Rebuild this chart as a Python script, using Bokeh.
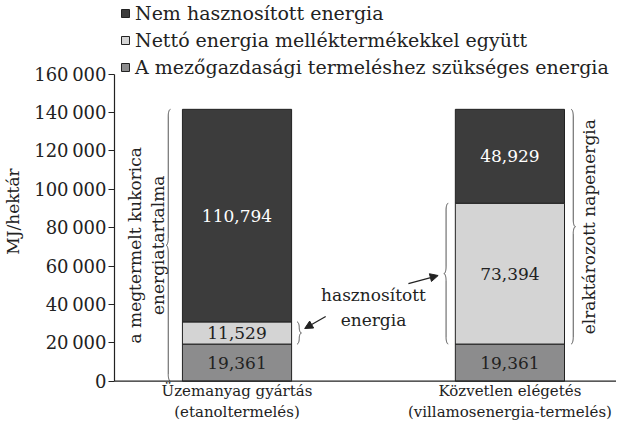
import numpy as np
from bokeh.plotting import figure
from bokeh.models import (ColumnDataSource, FixedTicker, Legend, LegendItem, Span,
                          Arrow, NormalHead, Range1d)
from bokeh.core.properties import value
from bokeh.embed import file_html
from bokeh.resources import INLINE

# ---- data ----
categories = ["Üzemanyag gyártás\n(etanoltermelés)",
              "Közvetlen elégetés\n(villamosenergia-termelés)"]
agri_energy = [19361, 19361]          # A mezőgazdasági termeléshez szükséges energia
net_energy = [11529, 73394]           # Nettó energia melléktermékekkel együtt
unused_energy = [110794, 48929]       # Nem hasznosított energia
series_names = ["A mezőgazdasági termeléshez szükséges energia",
                "Nettó energia melléktermékekkel együtt",
                "Nem hasznosított energia"]
y_ticks = [0, 20000, 40000, 60000, 80000, 100000, 120000, 140000, 160000]
y_tick_labels = ["0", "20\u2009000", "40\u2009000", "60\u2009000", "80\u2009000",
                 "100\u2009000", "120\u2009000", "140\u2009000", "160\u2009000"]

FONT = "DejaVu Serif"
C_DARK, C_LIGHT, C_MID = "#3c3c3c", "#d4d4d4", "#8c8c8d"
TXT = "#222222"
FS = "17px"

xs = [0, 1]
bw = 0.4
a = np.array(agri_energy, float)
n = np.array(net_energy, float)
u = np.array(unused_energy, float)
b1, b2, b3 = a, a + n, a + n + u

W_FIG, H_FIG = 616, 422
L = 112
x0r = -(235 - L) / 274
p = figure(width=W_FIG, height=H_FIG, output_backend="svg", toolbar_location=None,
           x_range=Range1d(x0r, x0r + (W_FIG - L) / 274), y_range=Range1d(-21524, 198410),
           min_border_left=L, min_border_right=0, min_border_top=0, min_border_bottom=0)
p.outline_line_color = None
p.grid.visible = False
p.xaxis.visible = False

src = ColumnDataSource(dict(x=xs, a0=[0, 0], a1=b1, n1=b2, u1=b3))
r_a = p.vbar(x="x", width=bw, bottom="a0", top="a1", source=src, fill_color=C_MID,
             line_color="#222222", line_width=1)
r_n = p.vbar(x="x", width=bw, bottom="a1", top="n1", source=src, fill_color=C_LIGHT,
             line_color="#222222", line_width=1)
r_u = p.vbar(x="x", width=bw, bottom="n1", top="u1", source=src, fill_color=C_DARK,
             line_color="#222222", line_width=1)

# x axis line
p.add_layout(Span(location=0, dimension="width", line_color="#222222", line_width=1.2))

# category labels
p.text(x=xs, y=[-10580, -10580], text=categories, text_align="center", text_baseline="middle",
       text_font=value(FONT), text_font_size="15px", text_color=TXT, text_line_height=1.13)

# value labels
lx, ly, lt, lc = [], [], [], []
for i in range(2):
    for bot, top, val, col in [(0, b1[i], agri_energy[i], TXT),
                               (b1[i], b2[i], net_energy[i], TXT),
                               (b2[i], b3[i], unused_energy[i], "white")]:
        lx.append(xs[i]); ly.append((bot + top) / 2); lt.append(f"{val:,}"); lc.append(col)
p.text(x=lx, y=ly, text=lt, text_color=lc, text_align="center", text_baseline="middle",
       text_font=value(FONT), text_font_size=FS)

# y axis
p.yaxis.bounds = (0, 160000)
p.yaxis.ticker = FixedTicker(ticks=y_ticks)
p.yaxis.major_label_overrides = {t: l for t, l in zip(y_ticks, y_tick_labels)}
p.yaxis.minor_tick_line_color = None
p.yaxis.major_tick_in = 0
p.yaxis.major_tick_out = 6
p.yaxis.axis_line_color = "#222222"
p.yaxis.axis_line_width = 1.2
p.yaxis.major_tick_line_color = "#222222"
p.yaxis.major_label_text_font = FONT
p.yaxis.major_label_text_font_size = "18px"
p.yaxis.major_label_text_color = TXT
p.yaxis.major_label_standoff = 2
p.yaxis.axis_label = "MJ/hektár"
p.yaxis.axis_label_text_font = FONT
p.yaxis.axis_label_text_font_size = FS
p.yaxis.axis_label_text_font_style = "normal"
p.yaxis.axis_label_text_color = TXT
p.yaxis.axis_label_standoff = 8

# braces
def brace(x0, y0, y1, w, r, direction):
    ym = (y0 + y1) / 2
    t = np.linspace(0, np.pi / 2, 12)
    d = -1 if direction == "left" else 1
    pts_x, pts_y = [], []
    pts_x += list(x0 + d * (w / 2) * np.sin(t)); pts_y += list(y1 - r * (1 - np.cos(t)))
    pts_x += list(x0 + d * (w / 2) + d * (w / 2) * (1 - np.cos(t))); pts_y += list(ym + r - r * np.sin(t))
    pts_x += list(x0 + d * w - d * (w / 2) * np.sin(t)); pts_y += list(ym - r * (1 - np.cos(t)))
    pts_x += list(x0 + d * (w / 2) * np.cos(t)); pts_y += list(y0 + r * (1 - np.sin(t)))
    return pts_x, pts_y

W, R = 0.016, 3500
for bx0, y0, y1, dr in [(xs[0] - bw / 2 - 0.044, 0, b3[0], "left"),
                        (xs[0] + bw / 2 + 0.020, b1[0], b2[0], "right"),
                        (xs[1] - bw / 2 - 0.026, b1[1], b2[1], "left"),
                        (xs[1] + bw / 2 + 0.024, b1[1], b3[1], "right")]:
    bx, by = brace(bx0, y0, y1, W, min(R, (y1 - y0) / 4), dr)
    p.line(bx, by, line_color="#555555", line_width=1)

# rotated annotation texts
p.text(x=[xs[0] - 0.332], y=[b3[0] / 2], text=["a megtermelt kukorica\nenergiatartalma"],
       angle=np.pi / 2, text_align="center", text_baseline="middle",
       text_font=value(FONT), text_font_size=FS, text_color=TXT, text_line_height=1.15)
p.text(x=[xs[1] + 0.288], y=[(b1[1] + b3[1]) / 2], text=["elraktározott napenergia"],
       angle=np.pi / 2, text_align="center", text_baseline="middle",
       text_font=value(FONT), text_font_size=FS, text_color=TXT)
p.text(x=[0.5], y=[38400], text=["hasznosított\nenergia"], text_align="center",
       text_baseline="middle", text_font=value(FONT), text_font_size=FS,
       text_color=TXT, text_line_height=1.25)

# arrows
for xs_, ys_, xe, ye in [(0.325, 33700, 0.248, 27460), (0.628, 50900, 0.737, 55070)]:
    p.add_layout(Arrow(x_start=xs_, y_start=ys_, x_end=xe, y_end=ye, line_width=1.3,
                       line_color="#222222",
                       end=NormalHead(size=8, fill_color="#222222", line_color="#222222")))

# legend
legend = Legend(items=[LegendItem(label=series_names[2], renderers=[r_u]),
                       LegendItem(label=series_names[1], renderers=[r_n]),
                       LegendItem(label=series_names[0], renderers=[r_a])],
                location=(6, H_FIG - 78), orientation="vertical", padding=0, margin=0,
                spacing=5, label_height=20, glyph_height=10, glyph_width=10,
                label_standoff=5, border_line_color=None, background_fill_alpha=0,
                label_text_font=FONT, label_text_font_size="19px",
                label_text_color=TXT)
p.add_layout(legend, "center")

open("out.html", "w").write(file_html(p, INLINE))
